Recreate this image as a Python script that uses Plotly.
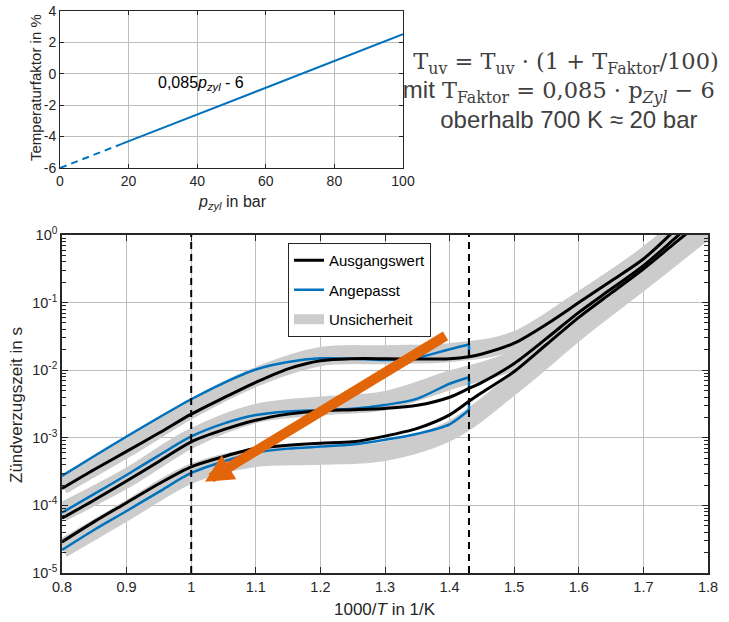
import plotly.graph_objects as go

W, H = 729, 622

def px(xp):
    return xp / W

def py(yp):
    return 1 - yp / H

# ---------------- top panel data ----------------
p_zyl_dash = [0, 18]
t_faktor_dash = [-6.0, -4.47]
p_zyl_solid = [18, 100]
t_faktor_solid = [-4.47, 2.5]
top_xticks = [0, 20, 40, 60, 80, 100]
top_yticks = [-6, -4, -2, 0, 2, 4]
top_yticklabels = ["-6", "-4", "-2", "0", "2", "4"]

# ---------------- bottom panel data (log10 of ignition delay in s) ----------------
inv_T = [0.8, 0.85, 0.9, 0.95, 1.0, 1.05, 1.1, 1.15, 1.2, 1.25, 1.3, 1.35, 1.4, 1.43,
         1.45, 1.5, 1.55, 1.6, 1.65, 1.7, 1.75, 1.8]
base_hi = [-3.75, -3.47, -3.20, -2.93, -2.65, -2.41, -2.18, -1.98, -1.86, -1.83, -1.83, -1.835,
           -1.83, -1.80, -1.76, -1.60, -1.32, -1.00, -0.68, -0.355, 0.08, 0.50]
base_mid = [-4.19, -3.92, -3.64, -3.35, -3.06, -2.88, -2.74, -2.65, -2.60, -2.585, -2.565, -2.52,
            -2.40, -2.27, -2.18, -1.90, -1.53, -1.144, -0.80, -0.454, -0.04, 0.38]
base_lo = [-4.54, -4.24, -3.96, -3.68, -3.43, -3.28, -3.156, -3.11, -3.08, -3.06, -2.975, -2.86,
           -2.66, -2.46, -2.33, -2.02, -1.62, -1.218, -0.86, -0.503, -0.11, 0.28]

inv_T_adj = [0.8, 0.85, 0.9, 0.95, 1.0, 1.05, 1.1, 1.15, 1.2, 1.25, 1.3, 1.35, 1.4, 1.43]
adj_hi = [-3.565, -3.27, -2.98, -2.70, -2.43, -2.19, -1.99, -1.88, -1.825, -1.83, -1.85, -1.815,
          -1.69, -1.62]
adj_mid = [-4.108, -3.83, -3.55, -3.26, -2.98, -2.79, -2.663, -2.61, -2.59, -2.57, -2.515, -2.42,
           -2.20, -2.105]
adj_lo = [-4.66, -4.36, -4.083, -3.80, -3.52, -3.35, -3.22, -3.16, -3.13, -3.10, -3.03, -2.94,
          -2.80, -2.59]

inv_T_band = [0.8, 0.9, 1.0, 1.1, 1.2, 1.3, 1.4, 1.5, 1.6, 1.7, 1.8]
band_hi = [-3.70, -3.15, -2.57, -2.10, -1.80, -1.77, -1.74, -1.57, -0.99, -0.34, 0.45]
band_mid = [-4.10, -3.60, -3.01, -2.64, -2.53, -2.45, -2.15, -1.85, -1.15, -0.45, 0.35]
band_lo = [-4.64, -4.08, -3.53, -3.29, -3.26, -3.20, -2.90, -2.20, -1.40, -0.66, 0.10]

x_dashed = [1.0, 1.43]
arrow_tail = (1.396, -1.479)
arrow_head = (1.0214, -3.649)

y_decades = [-5, -4, -3, -2, -1, 0]

BLUE = "#0072BD"
GRAY = "#cccccc"
ORANGE = "#E2650A"
AXC = "#262626"
FONT = "Liberation Sans, Arial, sans-serif"
SERIF = "DejaVu Serif, Liberation Serif, serif"


def pw(v):
    return [10 ** a for a in v]


fig = go.Figure()

# top panel
fig.add_trace(go.Scatter(x=p_zyl_dash, y=t_faktor_dash, mode="lines", xaxis="x", yaxis="y",
                         line=dict(color=BLUE, width=2, dash="7px,5px"), showlegend=False))
fig.add_trace(go.Scatter(x=p_zyl_solid, y=t_faktor_solid, mode="lines", xaxis="x", yaxis="y",
                         line=dict(color=BLUE, width=2), showlegend=False))

# bands
for i, b in enumerate([band_hi, band_mid, band_lo]):
    fig.add_trace(go.Scatter(x=inv_T_band, y=pw(b), mode="lines", xaxis="x2", yaxis="y2",
                             line=dict(color=GRAY, width=19, shape="spline", smoothing=1.0),
                             name="Unsicherheit", legendgroup="u", legendrank=3,
                             showlegend=(i == 0)))
# adjusted (blue)
for i, b in enumerate([adj_hi, adj_mid, adj_lo]):
    fig.add_trace(go.Scatter(x=inv_T_adj, y=pw(b), mode="lines", xaxis="x2", yaxis="y2",
                             line=dict(color=BLUE, width=2.5, shape="spline", smoothing=0.8),
                             name="Angepasst", legendgroup="a", legendrank=2,
                             showlegend=(i == 0)))
# vertical connectors of the adjusted curves at 1.43
cx, cy = [], []
for a, b in [(adj_hi, base_hi), (adj_mid, base_mid), (adj_lo, base_lo)]:
    cx += [inv_T_adj[-1], inv_T_adj[-1], None]
    cy += [10 ** a[-1], 10 ** b[inv_T.index(1.43)], None]
fig.add_trace(go.Scatter(x=cx, y=cy, mode="lines", xaxis="x2", yaxis="y2",
                         line=dict(color=BLUE, width=2.5), showlegend=False, legendgroup="a"))
# baseline (black)
for i, b in enumerate([base_hi, base_mid, base_lo]):
    fig.add_trace(go.Scatter(x=inv_T, y=pw(b), mode="lines", xaxis="x2", yaxis="y2",
                             line=dict(color="black", width=3, shape="spline", smoothing=0.8),
                             name="Ausgangswert", legendgroup="b", legendrank=1,
                             showlegend=(i == 0)))

axis_common = dict(showline=True, linecolor=AXC, mirror="allticks", ticks="inside",
                   tickcolor=AXC, showgrid=True, gridcolor="#bdbdbd", gridwidth=1,
                   zeroline=False, automargin=False,
                   tickfont=dict(family=FONT, size=14, color=AXC))
big_tick = dict(family=FONT, size=14.5, color=AXC)
minor_vals = [m * 10 ** d for d in y_decades[:-1] for m in range(2, 10)]

fig.update_layout(
    template="none",
    width=W, height=H, margin=dict(l=0, r=0, t=0, b=0, autoexpand=False),
    paper_bgcolor="white", plot_bgcolor="white",
    font=dict(family=FONT, color=AXC),
    xaxis=dict(domain=[px(60), px(403)], range=[0, 100], tickvals=top_xticks, anchor="y",
               ticklen=4, linewidth=1, **axis_common),
    yaxis=dict(domain=[py(168), py(10.7)], range=[-6, 4], tickvals=top_yticks,
               ticktext=top_yticklabels, anchor="x", ticklen=4, linewidth=1, **axis_common),
    xaxis2=dict(domain=[px(62), px(708)], range=[0.8, 1.8], dtick=0.1, tick0=0.8, anchor="y2",
                ticklen=6, linewidth=1.5, **{**axis_common, "tickfont": big_tick}),
    yaxis2=dict(domain=[py(573), py(235)], type="log", range=[-5, 0], anchor="x2",
                tickvals=[10 ** d for d in y_decades],
                ticktext=["10<sup>%d</sup>" % d for d in y_decades],
                ticklen=6, linewidth=1.5,
                minor=dict(tickmode="array", tickvals=minor_vals, ticks="inside", ticklen=4,
                           tickcolor=AXC, showgrid=False),
                **{**axis_common, "tickfont": big_tick}),
    legend=dict(x=px(288), y=py(243), xanchor="left", yanchor="top", bgcolor="white",
                bordercolor=AXC, borderwidth=1, font=dict(family=FONT, size=15, color="black"),
                traceorder="grouped", tracegroupgap=7, itemwidth=30),
)

# dashed vertical lines
for xv in x_dashed:
    fig.add_shape(type="line", xref="x2", yref="y2 domain", x0=xv, x1=xv, y0=0, y1=1,
                  line=dict(color="black", width=2, dash="7px,5px"))

ann = []
C = dict(xanchor="center", yanchor="middle", showarrow=False)
# orange arrow
ann.append(dict(xref="x2", yref="y2", axref="x2", ayref="y2", x=arrow_head[0], y=arrow_head[1],
                ax=arrow_tail[0], ay=arrow_tail[1], text="", showarrow=True, arrowhead=2,
                arrowwidth=10, arrowsize=0.56, arrowcolor=ORANGE, standoff=0))
# curve label in top panel
ann.append(dict(xref="x", yref="y", x=41, y=-0.6, text="0,085<i>p</i><sub><i>zyl</i></sub> - 6",
                font=dict(family=FONT, size=16, color="black"), **C))
# axis titles
ann.append(dict(xref="paper", yref="paper", x=px(35), y=py(88), text="Temperaturfaktor in %",
                textangle=-90, font=dict(family=FONT, size=15, color=AXC), **C))
ann.append(dict(xref="paper", yref="paper", x=px(232), y=py(203),
                text="<i>p</i><sub><i>zyl</i></sub> in bar",
                font=dict(family=FONT, size=16, color=AXC), **C))
ann.append(dict(xref="paper", yref="paper", x=px(16), y=py(405), text="Zündverzugszeit in s",
                textangle=-90, font=dict(family=FONT, size=17, color=AXC), **C))
ann.append(dict(xref="paper", yref="paper", x=px(385), y=py(609), text="1000/<i>T</i> in 1/K",
                font=dict(family=FONT, size=17, color=AXC), **C))
# formula block (one multi-line text)
FC = "#404040"
SANS = '<span style="font-family:Liberation Sans;font-size:24px">%s</span>'
formula = ("\u00a0\u00a0T<sub>uv</sub> = T<sub>uv</sub> · (1 + T<sub>Faktor</sub>/100)<br>"
           + (SANS % "mit") + " T<sub>Faktor</sub> = 0,085 · p<sub><i>Zyl</i></sub> − 6<br>"
           + (SANS % "\u00a0\u00a0\u00a0oberhalb 700 K ≈ 20 bar"))
ann.append(dict(xref="paper", yref="paper", x=px(559), y=py(91), text=formula, align="center",
                font=dict(family=SERIF, size=22.5, color=FC), **C))
fig.update_layout(annotations=ann)

fig.write_html("out.html")
